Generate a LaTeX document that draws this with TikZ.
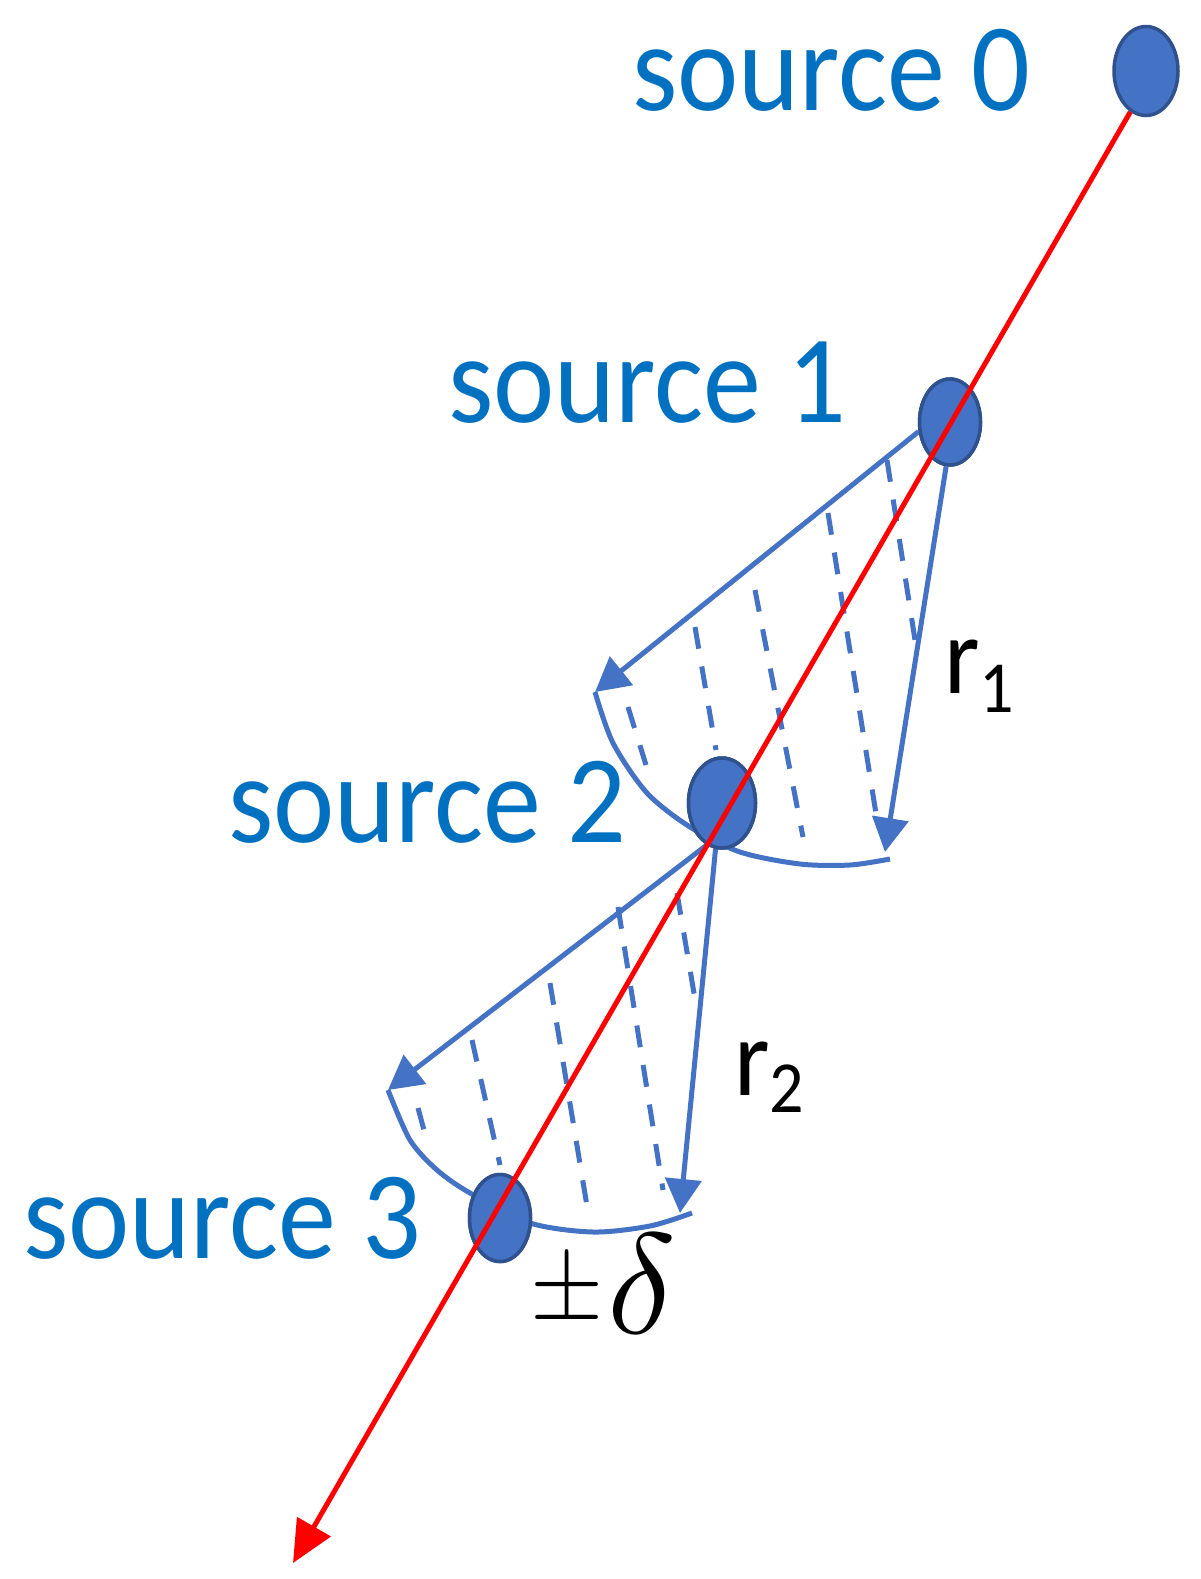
\documentclass[tikz,border=0pt]{standalone}
\usepackage{fontspec}
\setmainfont{Carlito}
\usepackage{graphicx}
\usetikzlibrary{arrows.meta,shapes.geometric}
\definecolor{srcblue}{HTML}{4472C4}
\definecolor{srcedge}{HTML}{2F528F}
\definecolor{txtblue}{HTML}{0070C0}
\definecolor{rayred}{HTML}{FF0000}
\begin{document}
\begin{tikzpicture}[x=1pt,y=-1pt,
  src/.style={ellipse, draw=srcedge, fill=srcblue, line width=3.5pt, inner sep=0pt},
  lbl/.style={anchor=base west, inner sep=0pt, text=txtblue, font=\fontsize{116}{120}\selectfont},
  sym/.style={anchor=base west, inner sep=0pt, text=black},
  ray/.style={line width=5pt, draw=srcblue, -{Triangle[length=34pt,width=36pt]}},
  arcline/.style={line width=5pt, draw=srcblue},
  dashline/.style={line width=5pt, draw=srcblue, dash pattern=on 22pt off 18pt},
  redray/.style={line width=5pt, draw=rayred, -{Triangle[length=42pt,width=38pt]}}
]
\useasboundingbox (0,0) rectangle (1200,1579);

% sources
\node[src, minimum width=64pt, minimum height=89pt] (s0) at (1146,71) {};
\node[src, minimum width=61pt, minimum height=86pt] (s1) at (950,422) {};
\node[src, minimum width=67pt, minimum height=90pt] (s2) at (722,803) {};
\node[src, minimum width=61pt, minimum height=87pt] (s3) at (500,1218) {};

% free ends
\coordinate (t1L) at (595,692);
\coordinate (t1R) at (885,852);
\coordinate (t2L) at (388,1090);
\coordinate (t2R) at (680,1213);
\coordinate (rt) at (293,1563);

% fan 1 dashed lines
\draw[dashline] (887,460) -- (915,640);
\draw[dashline] (828,513) -- (877,820);
\draw[dashline] (755,590) -- (803,837);
\draw[dashline] (695,627) -- (716,750);
\draw[dashline] (628,707) -- (646,765);
% fan 2 dashed lines
\draw[dashline] (677,893) -- (696,1005);
\draw[dashline] (618,907) -- (663,1190);
\draw[dashline] (550,983) -- (588,1212);
\draw[dashline] (472,1040) -- (500,1165);
\draw[dashline] (418,1108) -- (428,1145);

% fan 1
\draw[ray] (s1.197) -- (t1L);
\draw[ray] (s1.265) -- (t1R);
\draw[arcline] plot[smooth] coordinates {(t1L) (613,743) (647,793) (690,827) (740,852) (800,864) (850,865) (890,859)};
% fan 2
\draw[ray] (s2.250) -- (t2L);
\draw[ray] (s2.262) -- (t2R);
\draw[arcline] plot[smooth] coordinates {(t2L) (410,1140) (437,1170) (470,1193) (530,1223) (593,1232) (650,1226) (692,1213)};

% sources drawn again on top of the fans
\node[src, minimum width=61pt, minimum height=86pt] at (s1) {};
\node[src, minimum width=67pt, minimum height=90pt] at (s2) {};
\node[src, minimum width=61pt, minimum height=87pt] at (s3) {};

% red ray
\draw[redray] (s0.249) -- (rt);

% labels
\node[lbl] (l0) at (632,110) {\scalebox{1}[1.08]{source 0}};
\node[lbl] (l1) at (448,422) {\scalebox{1}[1.08]{source 1}};
\node[lbl] (l2) at (228,842) {\scalebox{1}[1.08]{source 2}};
\node[lbl] (l3) at (23,1258) {\scalebox{1}[1.08]{source 3}};

\node[sym, font=\fontsize{102}{102}\selectfont] (r1) at (944,693)
  {\scalebox{1}[1.08]{r\raisebox{-18pt}{\fontsize{68}{68}\selectfont 1}}};
\node[sym, font=\fontsize{102}{102}\selectfont] (r2) at (734,1095)
  {\scalebox{1}[1.08]{r\raisebox{-16pt}{\fontsize{68}{68}\selectfont 2}}};
\node[sym] (pd) at (530,1333)
  {\raisebox{14pt}{\scalebox{9.4}[10.5]{$\pm$}}\hspace{4pt}\scalebox{14.3}{$\delta$}};
\end{tikzpicture}
\end{document}
